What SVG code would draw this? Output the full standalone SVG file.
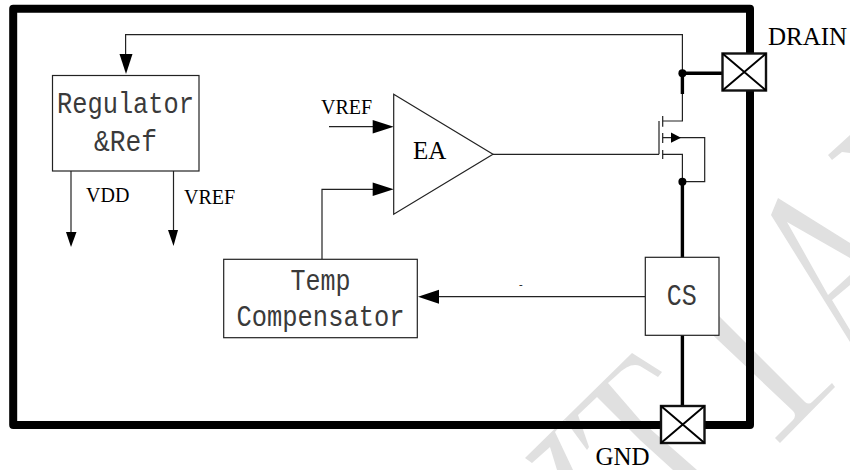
<svg xmlns="http://www.w3.org/2000/svg" width="850" height="470" viewBox="0 0 850 470">
<style>
.wm{fill:#e0e0e0;stroke:none}
.box{fill:#fff;stroke:#222;stroke-width:1.2}
.w{fill:none;stroke:#222;stroke-width:1.2}
.t{fill:none;stroke:#000;stroke-width:3.4}
.ah{fill:#000;stroke:none}
.dot{fill:#000;stroke:none}
.pad{fill:#fff;stroke:#111;stroke-width:2.4}
.x{fill:none;stroke:#000;stroke-width:2}
.ser{font-family:"Liberation Serif",serif;fill:#000}
.mono{font-family:"Liberation Mono",monospace;font-size:30px;fill:#3a3a3a;text-anchor:middle}
</style>
<rect width="850" height="470" fill="#fff"/>
<g id="watermark">
<path class="wm" d="M632 353L662 372L658 377L640 366Q630 362 617 375L608 383L640 420L697 470H673L640 440L597 397L578 415L589 447L587 450L565 420L555 432L573 470H557L550 447L532 463L525 458Z"/>
<path class="wm" d="M700 297L805 402Q809 405 812 402L832 383L835 387L780 443L775 438L793 420Q797 415 793 411L700 323Z"/>
<path class="wm" d="M778 198L850 243V258L787 222L828 295L850 275V285L832 300L850 330V342L771 215Z"/>
<path class="wm" d="M828 155L850 135V153L842 152L832 160Z"/>
</g>
<path id="frame" d="M13.2 8.7H750V425H13.2Z" fill="none" stroke="#000" stroke-width="8" stroke-linejoin="round"/>
<g id="connectors">
<path class="w" d="M682.4 94V34.7H125.6V56"/>
<path class="ah" d="M119.5 54H132.5L126 74Z"/>
<path class="w" d="M71 171V234"/>
<path class="ah" d="M66 232H76.5L71 247Z"/>
<path class="w" d="M173.5 169V232"/>
<path class="ah" d="M168 230H178L173.5 246Z"/>
<path class="w" d="M329 126.7H375"/>
<path class="ah" d="M372.7 120V133.5L393.7 126.7Z"/>
<path class="w" d="M322 259V189.3H375"/>
<path class="ah" d="M372.7 182.5V196L393.7 189.3Z"/>
<path class="w" d="M493 154.3H659"/>
<path class="w" d="M645 296.7H437"/>
<path class="ah" d="M439 289.7V303.7L418 296.7Z"/>
<path class="t" d="M682.4 94V73.3H722"/>
<path class="w" d="M682.4 94V121H662.7"/>
<path class="w" d="M662.7 116V126.7M662.7 133V143M662.7 150V159M659 121V154.3"/>
<path class="w" d="M662.7 154.3H682.4V182M662.7 137.7H704.7V181.7H682.4"/>
<path class="ah" d="M671 132.5V142.7L681 137.7Z"/>
<path class="t" d="M682.4 182V258M682.4 335V407"/>
<circle class="dot" cx="682.4" cy="73.3" r="4"/>
<circle class="dot" cx="682.4" cy="181.7" r="4"/>
<text class="ser" x="519" y="288" font-size="11" fill="#555">-</text>
</g>
<g id="drain-pad">
<rect class="pad" x="722.5" y="53.5" width="43.5" height="37"/>
<path class="x" d="M722.5 53.5L766 90.5M766 53.5L722.5 90.5"/>
<text class="ser" x="768" y="45" font-size="25">DRAIN</text>
</g>
<g id="gnd-pad">
<rect class="pad" x="661" y="406" width="43.5" height="37"/>
<path class="x" d="M661 406L704.5 443M704.5 406L661 443"/>
<text class="ser" x="595.5" y="465" font-size="25">GND</text>
</g>
<g id="regulator">
<rect class="box" x="52.5" y="75.5" width="146.5" height="95.5"/>
<text class="mono" x="125.5" y="113" textLength="137" lengthAdjust="spacingAndGlyphs">Regulator</text>
<text class="mono" x="125.5" y="151" textLength="63" lengthAdjust="spacingAndGlyphs">&amp;Ref</text>
<text class="ser" x="86" y="201.7" font-size="20">VDD</text>
<text class="ser" x="184" y="204" font-size="20">VREF</text>
</g>
<g id="ea">
<path class="box" d="M393.7 94.3L493 154.3L393.7 214.3Z"/>
<text class="ser" x="413" y="159" font-size="25">EA</text>
<text class="ser" x="321" y="114" font-size="20">VREF</text>
</g>
<g id="temp-compensator">
<rect class="box" x="223.7" y="259.3" width="193.6" height="78.4"/>
<text class="mono" x="320.5" y="290" textLength="60" lengthAdjust="spacingAndGlyphs">Temp</text>
<text class="mono" x="320.5" y="326" textLength="168" lengthAdjust="spacingAndGlyphs">Compensator</text>
</g>
<g id="cs">
<rect class="box" x="645.3" y="257.3" width="73.7" height="78"/>
<text class="mono" x="681.7" y="305" textLength="30" lengthAdjust="spacingAndGlyphs">CS</text>
</g>
</svg>
